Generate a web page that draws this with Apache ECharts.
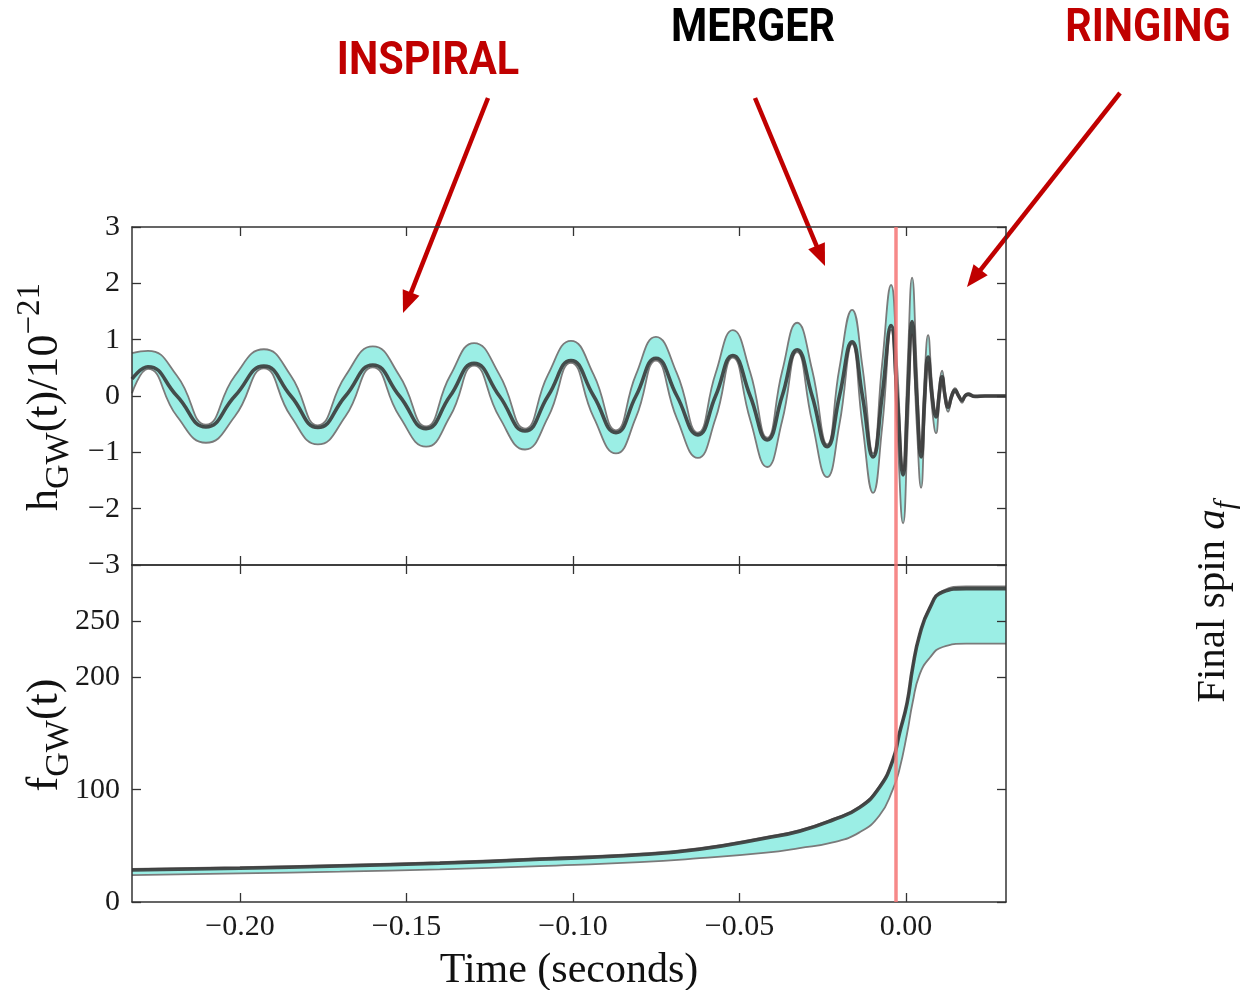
<!DOCTYPE html>
<html><head><meta charset="utf-8">
<script src="https://cdn.jsdelivr.net/npm/echarts@6/dist/echarts.min.js"></script>
<style>html,body{margin:0;padding:0;background:#fff}#c{width:1243px;height:990px}</style>
</head><body><div id="c"></div><script>
// ---- top panel: strain h(t)/1e-21 (knots read at peaks, troughs and zero crossings)
const hTime = [-0.2324,-0.2276,-0.2189,-0.2102,-0.2015,-0.1928,-0.1847,-0.1766,-0.1683,-0.1601,-0.1521,-0.1441,-0.1369,-0.1297,-0.1221,-0.1144,-0.1075,-0.1006,-0.0938,-0.0871,-0.0811,-0.0751,-0.0688,-0.0625,-0.0572,-0.0520,-0.0468,-0.0417,-0.0372,-0.0327,-0.0282,-0.0237,-0.0200,-0.0162,-0.0131,-0.0099,-0.0072,-0.0045,-0.0027,-0.0009,0.0005,0.0018,0.0032,0.0045,0.0056,0.0066,0.0078,0.0090,0.0099,0.0108,0.0117,0.0126,0.0137,0.0147,0.0158,0.0168,0.0177,0.0186,0.0207,0.0237,0.0300];
const hCenter = [0.30,0.52,0,-0.55,0,0.53,0,-0.56,0,0.55,0,-0.58,0,0.58,0,-0.62,0,0.63,0,-0.65,0,0.67,0,-0.69,0,0.72,0,-0.78,0,0.82,0,-0.90,0,0.96,0,-1.08,0,1.25,0,-1.40,0,1.32,0,-1.08,0,0.69,0,-0.37,0,0.34,0,-0.20,0,0.10,0,-0.08,0,0.03,-0.01,0,0];
const hUpper = [0.76,0.80,0.36,-0.51,0.36,0.83,0.36,-0.52,0.36,0.88,0.36,-0.54,0.36,0.94,0.38,-0.58,0.38,0.98,0.38,-0.61,0.38,1.05,0.40,-0.65,0.40,1.17,0.42,-0.74,0.44,1.30,0.46,-0.86,0.50,1.53,0.52,-1.02,0.56,1.97,0.55,-1.33,0.60,2.10,0.50,-1.00,0.38,1.08,0.22,-0.33,0.16,0.45,0.08,-0.17,0.05,0.14,0.03,-0.06,0.02,0.05,0.01,0.01,0.01];
const hLower = [0.05,0.48,-0.36,-0.83,-0.36,0.49,-0.36,-0.86,-0.36,0.51,-0.36,-0.90,-0.36,0.54,-0.38,-0.95,-0.38,0.59,-0.38,-1.02,-0.38,0.63,-0.40,-1.10,-0.40,0.68,-0.42,-1.26,-0.44,0.78,-0.46,-1.44,-0.50,0.92,-0.52,-1.72,-0.56,1.18,-0.55,-2.26,-0.60,1.10,-0.50,-1.63,-0.38,0.60,-0.22,-0.66,-0.16,0.30,-0.08,-0.28,-0.05,0.07,-0.03,-0.12,-0.02,0.01,-0.02,-0.01,-0.01];
// ---- bottom panel: frequency f(t)
const fTime = [-0.2324,-0.20,-0.17,-0.14,-0.11,-0.08,-0.062,-0.042,-0.032,-0.022,-0.014,-0.008,-0.004,-0.002,0.0003,0.002,0.004,0.007,0.011,0.018,0.030];
const fCenter = [28.5,30,32,34.5,38,42,47,57,63,73,84,102,126,150,177,209,237,261,276,279,279];
const fUpper = [29.5,31,33,35.5,39,43,48,58,64,74,85,103,127,151,178,210,238,262,277,281,281];
const fLower = [24,25.5,27,29,32,35.5,39,44,48,53,62,77,100,118,150,178,202,217,227,230,230];
// ---- axes
const xTicks = [-0.20,-0.15,-0.10,-0.05,0.00];
const hTicks = [-3,-2,-1,0,1,2,3];
const fTicks = [0,100,200,250];
const mergerTime = -0.003;
const xMin = -0.2324, xMax = 0.03;

const zip = (a,b) => a.map((v,i)=>[v,b[i]]);
const minus = s => String(s).replace('-', '\u2212');
const SERIF = 'Liberation Serif';
const AX = '#333';

function xAxis(grid, pos, labels){
  return {type:'value', gridIndex:grid, position:pos, min:xMin, max:xMax, z:10,
    axisLine:{show:true, onZero:false, lineStyle:{color:AX, width:1.5}},
    axisTick:{show:true, inside:true, length:9, customValues:xTicks, lineStyle:{color:AX,width:1.3}},
    axisLabel:{show:labels, customValues:xTicks, margin:10, fontFamily:SERIF, fontSize:30, color:'#1a1a1a',
      formatter:v=>minus(v.toFixed(2))},
    splitLine:{show:false}};
}
function yAxis(grid, pos, labels, min, max, ticks){
  return {type:'value', gridIndex:grid, position:pos, min:min, max:max, z:10,
    axisLine:{show:true, onZero:false, lineStyle:{color:AX, width:1.5}},
    axisTick:{show:true, inside:true, length:9, customValues:ticks, lineStyle:{color:AX,width:1.3}},
    axisLabel:{show:labels, customValues:ticks, margin:12, fontFamily:SERIF, fontSize:30, color:'#1a1a1a',
      formatter:v=>minus(v)},
    splitLine:{show:false}};
}
const markRed = {silent:true, precision:4, symbol:['none','none'], label:{show:false}, z:20,
  lineStyle:{color:'#f47474', width:3.5, type:'solid', opacity:0.85}, emphasis:{disabled:true}, data:[{xAxis:mergerTime}], animation:false};

const BAND = '#9beee5', EDGE = '#7a7a7a', DARK = '#3a3a3a';
// band = cyan area under upper edge, masked by white area under lower edge
function bandSeries(xi, yi, t, lo, up){
  return [
    {type:'line', xAxisIndex:xi, yAxisIndex:yi, data:zip(t,up), smooth:0.5, symbol:'none',
      lineStyle:{color:EDGE, width:1.8}, areaStyle:{color:BAND, opacity:1, origin:'start'}, z:1},
    {type:'line', xAxisIndex:xi, yAxisIndex:yi, data:zip(t,lo), smooth:0.5, symbol:'none',
      lineStyle:{color:EDGE, width:1.8}, areaStyle:{color:'#ffffff', opacity:1, origin:'start'}, z:2}
  ];
}

function arrow(x1,y1,x2,y2){
  const dx=x2-x1, dy=y2-y1, L=Math.hypot(dx,dy), ux=dx/L, uy=dy/L, px=-uy, py=ux;
  const hl=22, hw=9;
  const bx=x2-ux*hl, by=y2-uy*hl;
  return [
    {type:'line', shape:{x1:x1,y1:y1,x2:bx+ux*2,y2:by+uy*2}, style:{stroke:'#c00000', lineWidth:4.5}},
    {type:'polygon', shape:{points:[[x2,y2],[bx+px*hw,by+py*hw],[bx-px*hw,by-py*hw]]}, style:{fill:'#c00000'}}
  ];
}

const chart = echarts.init(document.getElementById('c'), null, {renderer:'canvas'});
chart.setOption({
  animation:false,
  backgroundColor:'#fff',
  grid:[{left:132, top:227, width:874, height:338}, {left:132, top:565, width:874, height:337}],
  xAxis:[xAxis(0,'bottom',false), xAxis(0,'top',false), xAxis(1,'bottom',true), xAxis(1,'top',false)],
  yAxis:[yAxis(0,'left',true,-3,3,hTicks), yAxis(0,'right',false,-3,3,hTicks),
         yAxis(1,'left',true,0,300,fTicks), yAxis(1,'right',false,0,300,fTicks)],
  series:[
    ...bandSeries(0,0,hTime,hLower,hUpper),
    {type:'line', xAxisIndex:0, yAxisIndex:0, data:zip(hTime,hCenter), smooth:0.5, symbol:'none',
      lineStyle:{color:DARK, width:3.6, opacity:0.9}, z:4, markLine:markRed},
    ...bandSeries(2,2,fTime,fLower,fUpper),
    {type:'line', xAxisIndex:2, yAxisIndex:2, data:zip(fTime,fCenter), smooth:0.5, symbol:'none',
      lineStyle:{color:DARK, width:3.6, opacity:0.9}, z:4, markLine:markRed}
  ],
  graphic:[
    {type:'text', x:45, y:397, rotation:Math.PI/2, style:{text:'{m|h}{s|GW}{m|(t)/10}{p|\u221221}', align:'center', verticalAlign:'middle', fill:'#111',
      rich:{m:{fontFamily:SERIF,fontSize:44,lineHeight:62,verticalAlign:'middle',fill:'#111'},
            s:{fontFamily:SERIF,fontSize:34,lineHeight:34,verticalAlign:'bottom',fill:'#111'},
            p:{fontFamily:SERIF,fontSize:33,lineHeight:33,verticalAlign:'top',fill:'#111'}}}},
    {type:'text', x:45, y:735, rotation:Math.PI/2, style:{text:'{m|f}{s|GW}{m|(t)}', align:'center', verticalAlign:'middle', fill:'#111',
      rich:{m:{fontFamily:SERIF,fontSize:44,lineHeight:62,verticalAlign:'middle',fill:'#111'},
            s:{fontFamily:SERIF,fontSize:34,lineHeight:34,verticalAlign:'bottom',fill:'#111'}}}},
    {type:'text', x:569, y:971, style:{text:'Time (seconds)', font:'42px "Liberation Serif"', align:'center', verticalAlign:'middle', fill:'#111'}},
    {type:'text', x:1213, y:602, rotation:Math.PI/2, style:{text:'{m|Final spin }{i|a}{s|f}', align:'center', verticalAlign:'middle', fill:'#111',
      rich:{m:{fontFamily:SERIF,fontSize:41,lineHeight:56,verticalAlign:'middle',fill:'#111'},
            i:{fontFamily:SERIF,fontStyle:'italic',fontSize:41,lineHeight:56,verticalAlign:'middle',fill:'#111'},
            s:{fontFamily:SERIF,fontStyle:'italic',fontSize:29,lineHeight:29,verticalAlign:'bottom',fill:'#111'}}}},
    {type:'text', x:428, y:62, scaleX:0.9, style:{text:'INSPIRAL', font:'bold 46px Roboto', align:'center', verticalAlign:'middle', fill:'#c00000'}},
    {type:'text', x:753, y:29, scaleX:0.9, style:{text:'MERGER', font:'bold 46px Roboto', align:'center', verticalAlign:'middle', fill:'#000'}},
    {type:'text', x:1148, y:29, scaleX:0.9, style:{text:'RINGING', font:'bold 46px Roboto', align:'center', verticalAlign:'middle', fill:'#c00000'}},
    ...arrow(488,98,403,313),
    ...arrow(755,98,825,266),
    ...arrow(1120,93,967,287)
  ]
});
</script></body></html>
